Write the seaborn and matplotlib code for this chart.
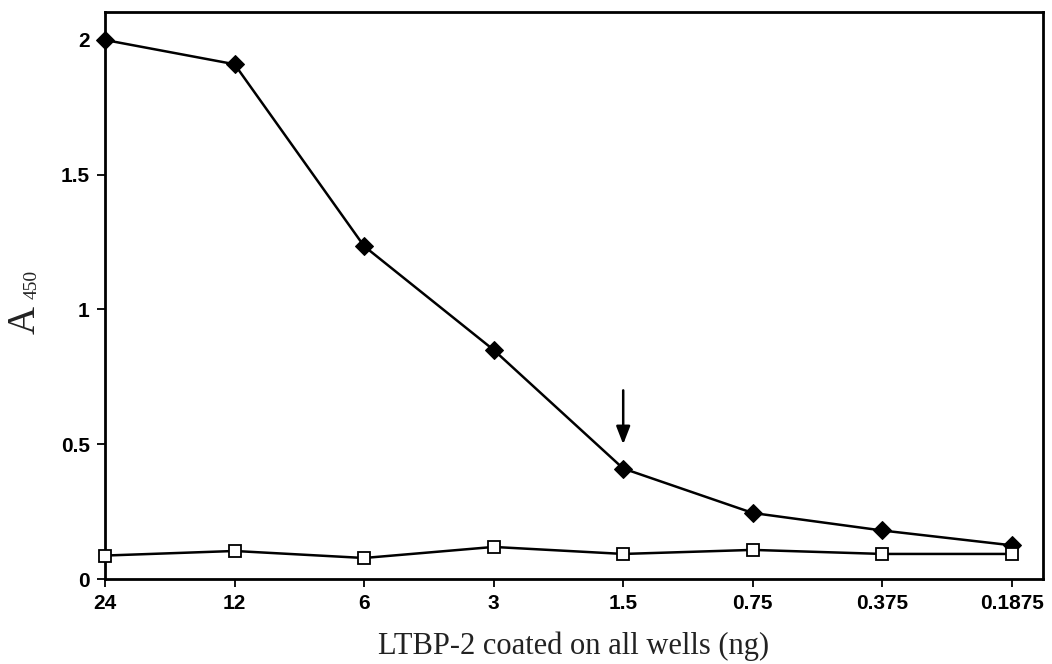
import matplotlib
matplotlib.use("Agg")
import matplotlib.pyplot as plt
import seaborn as sns
import pandas as pd

# Amount of LTBP-2 coated per well (ng), two-fold dilution series
amounts = ["24", "12", "6", "3", "1.5", "0.75", "0.375", "0.1875"]
# Absorbance at 450 nm
coated = [2.00, 1.91, 1.235, 0.85, 0.41, 0.245, 0.18, 0.125]
control = [0.087, 0.104, 0.078, 0.119, 0.093, 0.108, 0.093, 0.093]
yticks = [0, 0.5, 1, 1.5, 2]
ytick_labels = ["0", "0.5", "1", "1.5", "2"]

sns.set_theme(style="white")
plt.rcParams["font.family"] = ["Liberation Sans", "DejaVu Sans"]

pos = list(range(len(amounts)))
df = pd.DataFrame({"pos": pos * 2,
                   "A450": coated + control,
                   "series": ["coated"] * len(pos) + ["control"] * len(pos)})

fig = plt.figure(figsize=(10.52, 6.64), dpi=100)
ax = fig.add_axes([0.0998, 0.128, 0.8916, 0.854])

sns.lineplot(data=df[df.series == "coated"], x="pos", y="A450", ax=ax,
             color="black", lw=1.8, marker="D", markersize=9,
             markerfacecolor="black", markeredgecolor="black", zorder=3,
             clip_on=False)
sns.lineplot(data=df[df.series == "control"], x="pos", y="A450", ax=ax,
             color="black", lw=1.8, marker="s", markersize=9,
             markerfacecolor="white", markeredgecolor="black",
             markeredgewidth=1.3, zorder=4, clip_on=False)

# arrow above the 1.5 ng point
i = amounts.index("1.5")
ax.annotate("", xy=(pos[i], coated[i] + 0.09), xytext=(pos[i], coated[i] + 0.29),
            arrowprops=dict(arrowstyle="-|>,head_length=0.9,head_width=0.35",
                            color="black", lw=1.8, shrinkA=0, shrinkB=0))

ax.set_xlim(0, 7.24)
ax.set_ylim(0, 2.104)
ax.set_xticks(pos)
ax.set_xticklabels(amounts)
ax.set_yticks(yticks)
ax.set_yticklabels(ytick_labels)
for lab in ax.get_xticklabels() + ax.get_yticklabels():
    lab.set_fontweight("bold")
    lab.set_fontsize(15)

ax.tick_params(axis="both", direction="out", length=6, width=1.3,
               colors="black", bottom=True, left=True, pad=5)
for s in ax.spines.values():
    s.set_visible(True)
    s.set_color("black")
    s.set_linewidth(2.0)
ax.grid(False)

ax.set_xlabel("LTBP-2 coated on all wells (ng)", family="Liberation Serif",
              fontsize=22, labelpad=13, color="#222222")
ax.set_ylabel("")
fig.text(25 / 1052, 1 - 320 / 664, "A", family="Liberation Serif", fontsize=28,
         rotation=90, ha="center", va="center", color="#222222")
fig.text(32 / 1052, 1 - 284 / 664, "450", family="Liberation Serif", fontsize=14,
         rotation=90, ha="center", va="center", color="#222222")

fig.savefig("out.png", dpi=100, facecolor="white")
